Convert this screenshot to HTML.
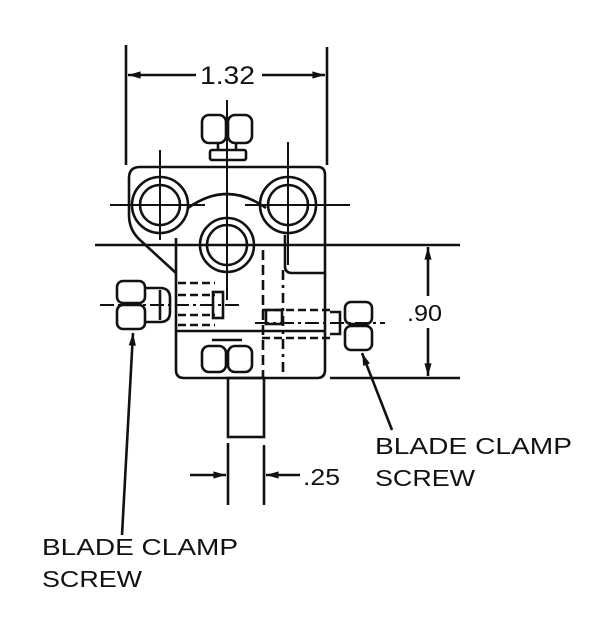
<!DOCTYPE html>
<html><head><style>
html,body{margin:0;padding:0;background:#fff;}
svg{display:block}
text{font-family:"Liberation Sans",sans-serif;fill:#111}
</style></head><body>
<svg width="600" height="630" viewBox="0 0 600 630" xmlns="http://www.w3.org/2000/svg">
<defs>
<marker id="a" viewBox="0 0 14 10" refX="14" refY="5" markerWidth="14" markerHeight="9" orient="auto-start-reverse" markerUnits="userSpaceOnUse"><path d="M0,1 L14,5 L0,9 Z" fill="#111"/></marker>
</defs>
<g stroke="#111" stroke-width="2.6" fill="none">
<line x1="126" y1="45" x2="126" y2="165"/>
<line x1="327" y1="47" x2="327" y2="165"/>
<line x1="128" y1="75" x2="196" y2="75" marker-start="url(#a)"/>
<line x1="262" y1="75" x2="325" y2="75" marker-end="url(#a)"/>
<path d="M140,167 H318 Q325,167 325,175 V370 Q325,378 317,378 H184 Q176,378 176,370 V273 L140,240 Q129,230 129,215 V178 Q129,167 140,167 Z"/>
<path d="M176,273 V238 M325,273 H292 Q285,273 285,266 V235"/>
<path d="M176,331 H325"/>
<path d="M188,208 Q227,180 266,208"/>
<circle cx="160" cy="205" r="28"/><circle cx="160" cy="205" r="20"/>
<circle cx="288" cy="205" r="28"/><circle cx="288" cy="205" r="20"/>
<circle cx="227" cy="245" r="27"/><circle cx="227" cy="245" r="20"/>
<line x1="110" y1="205" x2="205" y2="205" stroke-width="2"/>
<line x1="160" y1="150" x2="160" y2="240" stroke-width="2"/>
<line x1="245" y1="205" x2="350" y2="205" stroke-width="2"/>
<line x1="288" y1="142" x2="288" y2="265" stroke-width="2"/>
<line x1="95" y1="245" x2="460" y2="245"/>
<line x1="227" y1="100" x2="227" y2="300" stroke-width="2"/>
<rect x="202" y="115" width="24" height="28" rx="7"/>
<rect x="228" y="115" width="24" height="28" rx="7"/>
<rect x="210" y="150" width="36" height="10" rx="2"/>
<line x1="218" y1="143" x2="218" y2="150"/><line x1="236" y1="143" x2="236" y2="150"/>
<rect x="117" y="281" width="28" height="22" rx="6"/>
<rect x="117" y="305" width="28" height="24" rx="6"/>
<path d="M145,288 H160 Q170,288 170,298 V312 Q170,322 160,322 H145"/>
<line x1="160" y1="290" x2="160" y2="320"/>
<line x1="100" y1="305" x2="240" y2="305" stroke-width="2" stroke-dasharray="14,4,3,4"/>
<path d="M178,283 H215 M178,295 H215 M178,315 H215 M178,325 H215" stroke-dasharray="8,4"/>
<rect x="213" y="292" width="10" height="26"/>
<line x1="263" y1="250" x2="263" y2="378" stroke-dasharray="10,5"/>
<line x1="283" y1="270" x2="283" y2="378" stroke-dasharray="10,5,3,5"/>
<path d="M262,310 H330 M262,338 H330" stroke-dasharray="8,4"/>
<rect x="266" y="310" width="16" height="14"/>
<path d="M330,312 H340 V334 H330"/>
<rect x="345" y="302" width="27" height="22" rx="6"/>
<rect x="345" y="326" width="27" height="24" rx="6"/>
<line x1="255" y1="323" x2="385" y2="323" stroke-width="2" stroke-dasharray="14,4,3,4"/>
<rect x="202" y="346" width="24" height="26" rx="7"/>
<rect x="228" y="346" width="24" height="26" rx="7"/>
<line x1="212" y1="340" x2="242" y2="340"/>
<rect x="228" y="378" width="36" height="59"/>
<line x1="330" y1="378" x2="460" y2="378"/>
<line x1="428" y1="247" x2="428" y2="296" marker-start="url(#a)"/>
<line x1="428" y1="328" x2="428" y2="376" marker-end="url(#a)"/>
<line x1="228" y1="443" x2="228" y2="505"/>
<line x1="264" y1="445" x2="264" y2="505"/>
<line x1="190" y1="475" x2="226" y2="475" marker-end="url(#a)"/>
<line x1="300" y1="475" x2="266" y2="475" marker-end="url(#a)"/>
<line x1="122" y1="535" x2="133" y2="333" marker-end="url(#a)"/>
<line x1="392" y1="430" x2="362" y2="353" marker-end="url(#a)"/>
</g>
<text x="200" y="84" font-size="25" textLength="55" lengthAdjust="spacingAndGlyphs">1.32</text>
<text x="407" y="321" font-size="23" textLength="35" lengthAdjust="spacingAndGlyphs">.90</text>
<text x="303" y="485" font-size="23" textLength="37" lengthAdjust="spacingAndGlyphs">.25</text>
<text x="375" y="454" font-size="23" textLength="197" lengthAdjust="spacingAndGlyphs">BLADE CLAMP</text>
<text x="375" y="486" font-size="23" textLength="100" lengthAdjust="spacingAndGlyphs">SCREW</text>
<text x="42" y="555" font-size="23" textLength="196" lengthAdjust="spacingAndGlyphs">BLADE CLAMP</text>
<text x="42" y="587" font-size="23" textLength="100" lengthAdjust="spacingAndGlyphs">SCREW</text>
</svg>
</body></html>
